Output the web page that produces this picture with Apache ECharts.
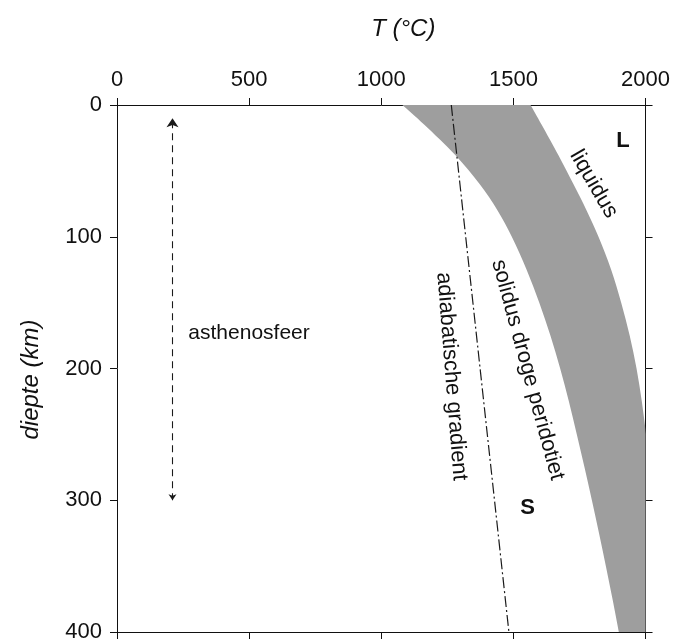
<!DOCTYPE html>
<html>
<head>
<meta charset="utf-8">
<script src="https://cdn.jsdelivr.net/npm/echarts@6/dist/echarts.min.js"></script>
<style>
  html, body { margin: 0; padding: 0; background: #fff; }
  #chart { width: 673px; height: 643px; }
</style>
</head>
<body>
<div id="chart"></div>
<script>
const depths = [0, 15, 38, 60, 80, 100, 125, 150, 175, 200, 225, 250, 275, 300, 325, 350, 375, 400]
// solidus droge peridotiet (T in graden C)
const solidusT = [1080, 1163, 1280, 1372, 1440, 1494, 1550, 1598, 1640, 1677, 1710, 1740, 1769, 1797, 1824, 1850, 1875, 1899]
// liquidus (loopt rechts buiten 2000 door, wordt geknipt)
const liquidusT = [1565, 1607, 1670, 1727, 1777, 1822, 1870, 1908, 1940, 1966, 1986, 2002, 2016, 2029, 2041, 2052, 2062, 2071]
// adiabatische gradient: [T, diepte]
const adiabat = [[1265, 0], [1483, 400]]
// asthenosfeer pijl: [T, diepte]
const asthenoArrow = [[210, 300], [210, 10]]

const xTicks = [0, 500, 1000, 1500, 2000]
const yTicks = [0, 100, 200, 300, 400]

const font = "'Liberation Sans', Arial, Helvetica, sans-serif"

const chart = echarts.init(document.getElementById('chart'))

const axisCommon = {
    type: 'value',
    splitLine: { show: false },
    axisLine: { show: true, onZero: false, lineStyle: { color: '#111', width: 1 } },
    axisTick: { show: true, inside: false, length: 7, lineStyle: { color: '#111', width: 1 } }
}

// vloeiende curve (Catmull-Rom) door de pixelpunten
const curveThrough = (pts, start) => {
    let d = (start ? 'M' : 'L') + pts[0][0] + ',' + pts[0][1]
    for (let i = 0; i < pts.length - 1; i++) {
        const p0 = pts[i - 1] || pts[i]
        const p1 = pts[i]
        const p2 = pts[i + 1]
        const p3 = pts[i + 2] || p2
        const c1 = [p1[0] + (p2[0] - p0[0]) / 6, p1[1] + (p2[1] - p0[1]) / 6]
        const c2 = [p2[0] - (p3[0] - p1[0]) / 6, p2[1] - (p3[1] - p1[1]) / 6]
        d += 'C' + c1[0] + ',' + c1[1] + ' ' + c2[0] + ',' + c2[1] + ' ' + p2[0] + ',' + p2[1]
    }
    return d
}

const option = {
    animation: false,
    backgroundColor: '#fff',
    grid: { left: 117, right: 27, top: 105, bottom: 6 },
    xAxis: [
        {
            ...axisCommon,
            position: 'top',
            min: xTicks[0], max: xTicks[xTicks.length - 1], interval: 500,
            axisLabel: { color: '#111', fontSize: 22, fontFamily: font, margin: 14, formatter: v => String(v) },
            name: 'T (°C)',
            nameLocation: 'middle',
            nameGap: 64,
            nameTextStyle: { color: '#111', fontSize: 24, fontStyle: 'italic', fontFamily: font, padding: [0, 0, 0, 44] }
        },
        {
            ...axisCommon,
            position: 'bottom',
            min: xTicks[0], max: xTicks[xTicks.length - 1], interval: 500,
            axisLabel: { show: false }
        }
    ],
    yAxis: [
        {
            ...axisCommon,
            position: 'left',
            inverse: true,
            min: yTicks[0], max: yTicks[yTicks.length - 1], interval: 100,
            axisLabel: { color: '#111', fontSize: 22, fontFamily: font, margin: 15, formatter: v => String(v) },
            name: 'diepte (km)',
            nameLocation: 'middle',
            nameGap: 74,
            nameRotate: 90,
            nameTextStyle: { color: '#111', fontSize: 24, fontStyle: 'italic', fontFamily: font, padding: [0, 22, 0, 0] }
        },
        {
            ...axisCommon,
            position: 'right',
            inverse: true,
            min: yTicks[0], max: yTicks[yTicks.length - 1], interval: 100,
            axisLabel: { show: false }
        }
    ],
    series: [
        {
            // grijze band tussen solidus en liquidus
            type: 'custom',
            clip: true,
            xAxisIndex: 0,
            yAxisIndex: 0,
            data: [[solidusT[0], depths[0]]],
            renderItem: (params, api) => {
                const sol = depths.map((d, i) => api.coord([solidusT[i], d]))
                const liq = depths.map((d, i) => api.coord([liquidusT[i], d])).reverse()
                const cs = params.coordSys
                return {
                    type: 'path',
                    shape: { pathData: curveThrough(sol, true) + curveThrough(liq, false) + 'Z' },
                    style: { fill: '#9e9e9e', stroke: null },
                    clipPath: { type: 'rect', shape: { x: cs.x, y: cs.y, width: cs.width, height: cs.height } }
                }
            },
            z: 1
        },
        {
            type: 'line',
            xAxisIndex: 0,
            yAxisIndex: 0,
            data: adiabat,
            showSymbol: false,
            symbol: 'none',
            lineStyle: { color: '#1a1a1a', width: 1.2, type: [11, 3, 2, 3] },
            z: 3
        },
        {
            type: 'lines',
            coordinateSystem: 'cartesian2d',
            xAxisIndex: 0,
            yAxisIndex: 0,
            data: [{ coords: asthenoArrow }],
            symbol: ['arrow', 'arrow'],
            symbolSize: [6, 9],
            lineStyle: { color: '#1a1a1a', width: 1.1, type: [7, 5], opacity: 1 },
            z: 3
        }
    ]
}

chart.setOption(option)

// teksten in de grafiek, geplaatst op [T, diepte]
const notes = [
    { at: [270, 173], text: 'asthenosfeer', rot: 0, align: 'left', bold: false, size: 21 },
    { at: [1915, 27], text: 'L', rot: 0, align: 'center', bold: true, size: 22 },
    { at: [1554, 306], text: 'S', rot: 0, align: 'center', bold: true, size: 22 },
    { at: [1804, 60], text: 'liquidus', rot: -60, align: 'center', bold: false, size: 22 },
    { at: [1554, 201], text: 'solidus droge peridotiet', rot: -74.8, align: 'center', bold: false, size: 22 },
    { at: [1266, 206], text: 'adiabatische gradient', rot: -85.5, align: 'center', bold: false, size: 22 }
]

chart.setOption({
    graphic: notes.map(n => {
        const p = chart.convertToPixel({ xAxisIndex: 0, yAxisIndex: 0 }, n.at)
        return {
            type: 'text',
            x: p[0],
            y: p[1],
            rotation: n.rot * Math.PI / 180,
            z: 10,
            style: {
                text: n.text,
                fill: '#111',
                font: (n.bold ? 'bold ' : '') + n.size + 'px ' + font,
                align: n.align,
                verticalAlign: 'middle'
            }
        }
    })
})
</script>
</body>
</html>
